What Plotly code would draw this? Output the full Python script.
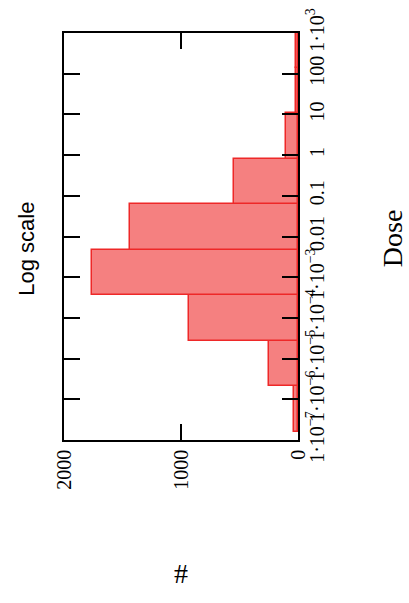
import plotly.graph_objects as go

# Histogram of dose values (log-spaced bins)
dose_log10_edges = [-6.796, -5.678, -4.561, -3.443, -2.326, -1.208, -0.090, 1.027, 2.145, 3.263]
counts = [35, 252, 931, 1763, 1434, 548, 105, 20, 18]

dose_tick_log10 = [-7, -6, -5, -4, -3, -2, -1, 0, 1, 2, 3]
dose_tick_text = ["1·10<sup>−7</sup>", "1·10<sup>−6</sup>", "1·10<sup>−5</sup>",
                  "1·10<sup>−4</sup>", "1·10<sup>−3</sup>", "0.01", "0.1", "1",
                  "10", "100", "1·10<sup>3</sup>"]
count_ticks = [0, 1000, 2000]
count_tick_text = ["0", "1000", "2000"]

centers = [(a + b) / 2 for a, b in zip(dose_log10_edges[:-1], dose_log10_edges[1:])]
widths = [b - a for a, b in zip(dose_log10_edges[:-1], dose_log10_edges[1:])]

fig = go.Figure()
fig.add_trace(go.Bar(
    x=counts, y=centers, width=widths, orientation="h",
    marker=dict(color="rgb(245,128,128)", line=dict(color="rgb(238,40,40)", width=1.5)),
    showlegend=False, hoverinfo="skip",
))

serif = "Liberation Serif"

fig.update_layout(
    width=409, height=603,
    margin=dict(l=64, r=111, t=33, b=163, pad=0, autoexpand=False),
    paper_bgcolor="white", plot_bgcolor="white",
    bargap=0,
    xaxis=dict(
        range=[2000, 0], tickvals=count_ticks, ticktext=count_tick_text,
        tickangle=-90, ticks="inside", ticklen=16, tickwidth=1.5, tickcolor="black",
        showline=True, linecolor="black", linewidth=1.5, mirror="ticks",
        showgrid=False, zeroline=False, automargin=False,
        tickfont=dict(family=serif, size=20, color="black"),
    ),
    yaxis=dict(
        range=[-7, 3], side="right", tickvals=dose_tick_log10, ticktext=dose_tick_text,
        tickangle=-90, ticks="inside", ticklen=16, tickwidth=1.5, tickcolor="black",
        showline=True, linecolor="black", linewidth=1.5, mirror="ticks",
        showgrid=False, zeroline=False, automargin=False,
        tickfont=dict(family=serif, size=20, color="black"),
    ),
    annotations=[
        dict(text="Log scale", xref="paper", yref="paper", x=-0.158, y=0.47,
             textangle=-90, showarrow=False, xanchor="center", yanchor="middle",
             font=dict(family="Liberation Sans", size=22, color="black")),
        dict(text="Dose", xref="paper", yref="paper", x=1.402, y=0.496,
             textangle=-90, showarrow=False, xanchor="center", yanchor="middle",
             font=dict(family=serif, size=28, color="black")),
        dict(text="#", xref="paper", yref="paper", x=0.5, y=-0.329,
             showarrow=False, xanchor="center", yanchor="middle",
             font=dict(family=serif, size=28, color="black")),
    ],
)

fig.write_html("out.html", config={"displayModeBar": False},
               post_script="document.body.style.margin='0';")
